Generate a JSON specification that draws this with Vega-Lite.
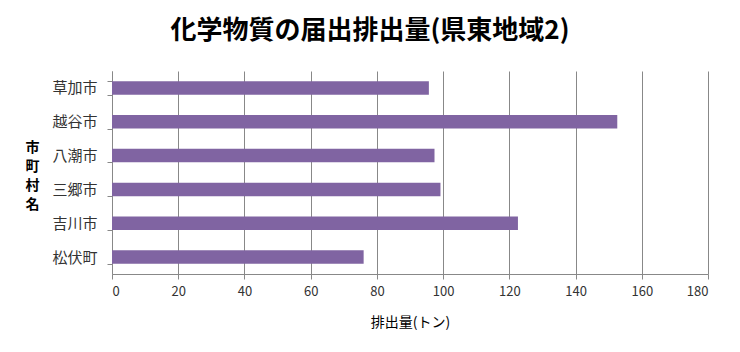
{
  "$schema": "https://vega.github.io/schema/vega-lite/v6.json",
  "width": 596,
  "height": 203,
  "autosize": "none",
  "padding": {"left": 112, "top": 71, "right": 32, "bottom": 78},
  "background": "white",
  "title": {
    "text": "化学物質の届出排出量(県東地域2)",
    "font": "Noto Sans CJK JP",
    "fontSize": 26,
    "fontWeight": "bold",
    "color": "#000000",
    "anchor": "middle",
    "baseline": "bottom",
    "dx": -40,
    "dy": 33,
    "offset": 27
  },
  "data": {
    "values": [
      {"city": "草加市", "amount": 95.7},
      {"city": "越谷市", "amount": 152.6},
      {"city": "八潮市", "amount": 97.4},
      {"city": "三郷市", "amount": 99.2},
      {"city": "吉川市", "amount": 122.6},
      {"city": "松伏町", "amount": 76.0}
    ]
  },
  "mark": {"type": "bar", "color": "#8064A2"},
  "encoding": {
    "y": {
      "field": "city",
      "type": "nominal",
      "sort": null,
      "scale": {"paddingInner": 0.6, "paddingOuter": 0.3},
      "axis": {
        "title": ["市", "町", "村", "名"],
        "titleAngle": 0,
        "titleX": -80,
        "titleY": 76,
        "titleAlign": "center",
        "titleBaseline": "middle",
        "titleLineHeight": 19,
        "titleFont": "Noto Sans CJK JP",
        "titleFontSize": 14,
        "titleFontWeight": "bold",
        "titleColor": "#000000",
        "labelFont": "Noto Sans CJK JP",
        "labelFontSize": 15,
        "labelColor": "#333333",
        "labelPadding": 10,
        "tickBand": "extent",
        "tickSize": 5,
        "tickColor": "#888888",
        "domainColor": "#888888",
        "grid": false
      }
    },
    "x": {
      "field": "amount",
      "type": "quantitative",
      "scale": {"domain": [0, 180], "nice": false},
      "axis": {
        "values": [0, 20, 40, 60, 80, 100, 120, 140, 160, 180],
        "title": "排出量(トン)",
        "titleFont": "Noto Sans CJK JP",
        "titleFontSize": 14,
        "titleFontWeight": "normal",
        "titleColor": "#000000",
        "titlePadding": 17,
        "labelFont": "Noto Sans CJK JP",
        "labelFontSize": 13,
        "labelColor": "#333333",
        "labelPadding": 6,
        "tickSize": 5,
        "tickColor": "#888888",
        "domainColor": "#888888",
        "grid": true,
        "gridColor": "#888888",
        "gridOpacity": 1
      }
    }
  },
  "config": {"view": {"stroke": null}}
}
